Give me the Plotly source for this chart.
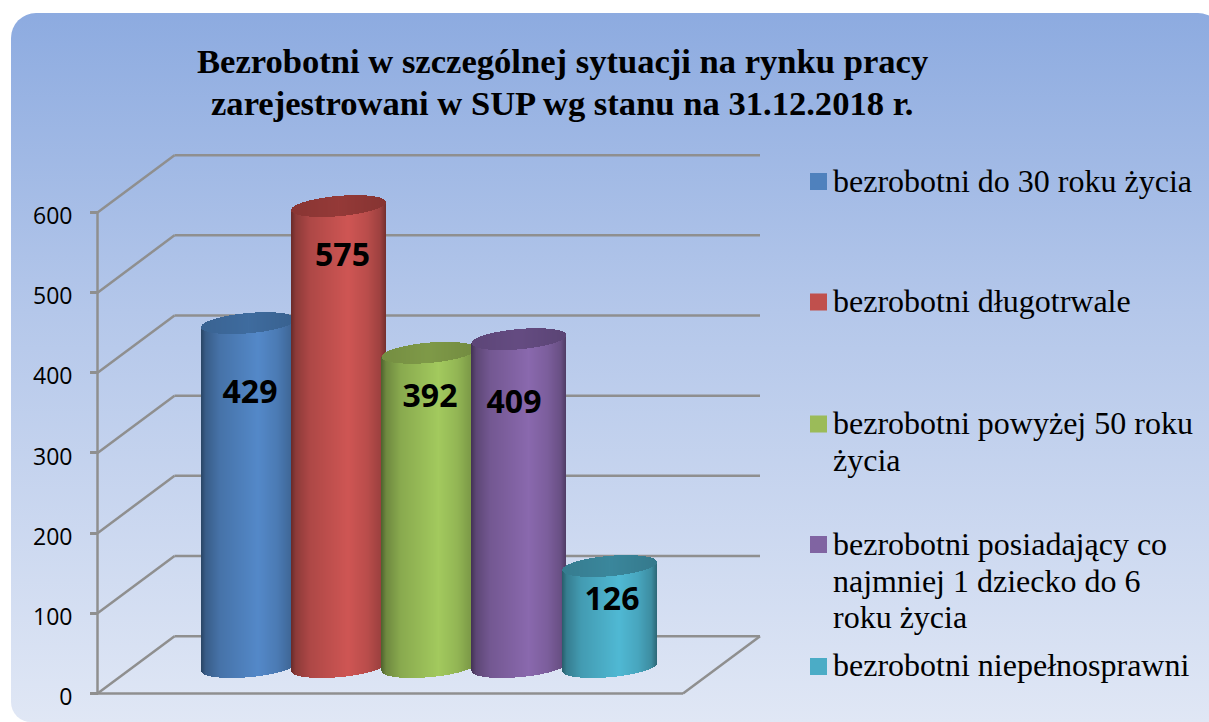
import base64
import numpy as np
import plotly.graph_objects as go

# ---------- data ----------
series_names = ["bezrobotni do 30 roku życia", "bezrobotni długotrwale",
                "bezrobotni powyżej 50 roku życia",
                "bezrobotni posiadający co najmniej 1 dziecko do 6 roku życia",
                "bezrobotni niepełnosprawni"]
values = [429, 575, 392, 409, 126]
y_ticks = [0, 100, 200, 300, 400, 500, 600]
title_lines = ["Bezrobotni w szczególnej sytuacji na rynku pracy",
               "zarejestrowani w SUP wg stanu na 31.12.2018 r."]
legend_lines = [["bezrobotni do 30 roku życia"],
                ["bezrobotni długotrwale"],
                ["bezrobotni powyżej 50 roku", "życia"],
                ["bezrobotni posiadający co", "najmniej 1 dziecko do 6", "roku życia"],
                ["bezrobotni niepełnosprawni"]]

# ---------- style ----------
body_colors = ["#5489c9", "#cf5654", "#a3ca5e", "#8a69ae", "#50b9d4"]
cap_colors = ["#3f6c9f", "#953a38", "#7f9a48", "#654c82", "#3b879c"]
swatch_colors = ["#4f81bd", "#c0504d", "#9bbb59", "#8064a2", "#4bacc6"]
GRID = "#8f8f8f"
W, H = 1209, 722
Y0_PX, PX_PER_UNIT = 693.5, 0.8017
DEPTH_X, DEPTH_Y = 77, 71.5      # depth of the box: px, value units
X_FRONT, X_RIGHT = 97.5, 683
BAR_CENTERS = [248.5, 338.5, 429, 519, 609.5]
A = 47.5                         # half width of a cylinder, px
BASE = 33.0                      # cylinder base above the front floor line
TILT, B = 5.0, 12.7              # ellipse shear and half height, value units
LABEL_X = [250, 342.5, 430, 514, 612]
LABEL_PX = [394.5, 257.5, 398.5, 404.5, 601.5]
SWATCH_PX = [181.5, 302, 424, 544.5, 666.5]
LEGEND_PX = [[181], [301], [423, 460], [544, 581, 617], [665]]
SHADE_T = [-1, -0.9, -0.6, 0.2, 0.6, 0.88, 1]
SHADE_M = [0.50, 0.68, 0.84, 1.0, 0.90, 0.76, 0.56]
TICK_LABEL_DROP_PX = 3.5


def val(py):
    return (Y0_PX - py) / PX_PER_UNIT


def rgb(c):
    return np.array([int(c[i:i + 2], 16) for i in (1, 3, 5)], float)


def col(c, m):
    r = np.clip(rgb(c) * m, 0, 255).astype(int)
    return f"rgb({r[0]},{r[1]},{r[2]})"


svg = f"""<svg xmlns="http://www.w3.org/2000/svg" width="{W}" height="{H}" viewBox="0 0 {W} {H}">
<defs><linearGradient id="g" x1="0" y1="0" x2="0" y2="1">
<stop offset="0" stop-color="#8dabe0"/><stop offset="0.42" stop-color="#b4c7ea"/>
<stop offset="1" stop-color="#e0e7f5"/></linearGradient></defs>
<path fill="url(#g)" d="M11 38 A25 25 0 0 1 36 13 H1198 A25 25 0 0 1 1223 38 V722 H31 A20 20 0 0 1 11 702 Z"/>
</svg>"""
bg_src = "data:image/svg+xml;base64," + base64.b64encode(svg.encode()).decode()

fig = go.Figure()

# cylinders: one-pixel bars whose ends follow the sheared ellipse
for i, v in enumerate(values):
    xs = np.arange(np.floor(BAR_CENTERS[i] - A) + 0.5, BAR_CENTERS[i] + A, 1.0)
    t = np.clip((xs - BAR_CENTERS[i]) / A, -1, 1)
    arc = B * np.sqrt(1 - t ** 2)
    shear = TILT * t
    m = np.interp(t, SHADE_T, SHADE_M)
    bottom = BASE + shear - arc
    top = BASE + v + shear
    fig.add_trace(go.Bar(x=xs, y=top - bottom, base=bottom, width=1.0,
                         marker=dict(color=[col(body_colors[i], k) for k in m], line=dict(width=0)),
                         hoverinfo="skip", showlegend=False))
    cap_m = np.interp(t, [-1, 0, 1], [0.92, 1.0, 0.9])
    fig.add_trace(go.Bar(x=xs, y=2 * arc, base=top - arc, width=1.0,
                         marker=dict(color=[col(cap_colors[i], k) for k in cap_m], line=dict(width=0)),
                         hoverinfo="skip", showlegend=False))

# value labels
fig.add_trace(go.Scatter(x=LABEL_X, y=[val(p) for p in LABEL_PX], mode="text",
                         text=[str(v) for v in values],
                         textfont=dict(family="Open Sans", size=32, color="#000000", weight="bold"),
                         textposition="middle center", hoverinfo="skip", showlegend=False))

# legend swatches
fig.add_trace(go.Scatter(x=[818.5] * 5, y=[val(p) for p in SWATCH_PX], mode="markers",
                         marker=dict(symbol="square", size=17, color=swatch_colors, line=dict(width=0)),
                         hoverinfo="skip", showlegend=False))

# invisible point that keeps the label-only overlay axis alive
fig.add_trace(go.Scatter(x=[X_FRONT], y=[0], yaxis="y2", mode="markers",
                         marker=dict(opacity=0, size=1), hoverinfo="skip", showlegend=False))

# 3D box drawn as gridlines behind the bars
shapes = []


def seg(x0, y0, x1, y1):
    shapes.append(dict(type="line", xref="x", yref="y", x0=x0, y0=y0, x1=x1, y1=y1,
                       layer="below", line=dict(color=GRID, width=2.5)))


for tick in y_ticks:
    seg(X_FRONT, tick, X_FRONT + DEPTH_X, tick + DEPTH_Y)
    seg(X_FRONT + DEPTH_X, tick + DEPTH_Y, 760, tick + DEPTH_Y)
seg(X_FRONT, 0, X_FRONT, y_ticks[-1])
seg(X_FRONT, 0, X_RIGHT, 0)
seg(X_RIGHT, 0, X_RIGHT + DEPTH_X, DEPTH_Y)

annotations = []
for line, py in zip(title_lines, [61, 102.5]):
    annotations.append(dict(x=562, y=val(py), xref="x", yref="y", text=line, showarrow=False,
                            xanchor="center", yanchor="middle",
                            font=dict(family="Liberation Serif", size=34.6, color="#000000", weight="bold")))
for lines, pys in zip(legend_lines, LEGEND_PX):
    for line, py in zip(lines, pys):
        annotations.append(dict(x=833, y=val(py), xref="x", yref="y", text=line, showarrow=False,
                                xanchor="left", yanchor="middle", xshift=-2,
                                font=dict(family="Liberation Serif", size=32, color="#000000")))

drop = TICK_LABEL_DROP_PX / PX_PER_UNIT
fig.update_layout(
    width=W, height=H, autosize=False,
    margin=dict(l=0, r=0, t=0, b=0),
    paper_bgcolor="white", plot_bgcolor="rgba(0,0,0,0)",
    barmode="overlay", bargap=0, showlegend=False,
    shapes=shapes, annotations=annotations,
    images=[dict(source=bg_src, xref="paper", yref="paper", x=0, y=1, sizex=1, sizey=1,
                 xanchor="left", yanchor="top", sizing="stretch", layer="below")],
    xaxis=dict(range=[0, W], domain=[0, 1], visible=False, fixedrange=True),
    yaxis=dict(range=[val(H), val(0)], domain=[0, 1], anchor="free", position=X_FRONT / W,
               tickmode="array", tickvals=y_ticks,
               ticks="outside", ticklen=8, tickwidth=2.5, tickcolor=GRID,
               showticklabels=False,
               showgrid=False, zeroline=False, showline=False, fixedrange=True),
    yaxis2=dict(range=[val(H) + drop, val(0) + drop], domain=[0, 1], overlaying="y",
                anchor="free", position=X_FRONT / W, side="left",
                tickmode="array", tickvals=y_ticks, ticktext=[str(t) for t in y_ticks],
                ticks="", ticklabelstandoff=25,
                tickfont=dict(family="Open Sans", size=23, color="#000000"),
                showgrid=False, zeroline=False, showline=False, fixedrange=True),
)

fig.write_html("out.html", config={"displayModeBar": False},
               post_script="document.body.style.margin='0';document.documentElement.style.overflow='hidden';")
